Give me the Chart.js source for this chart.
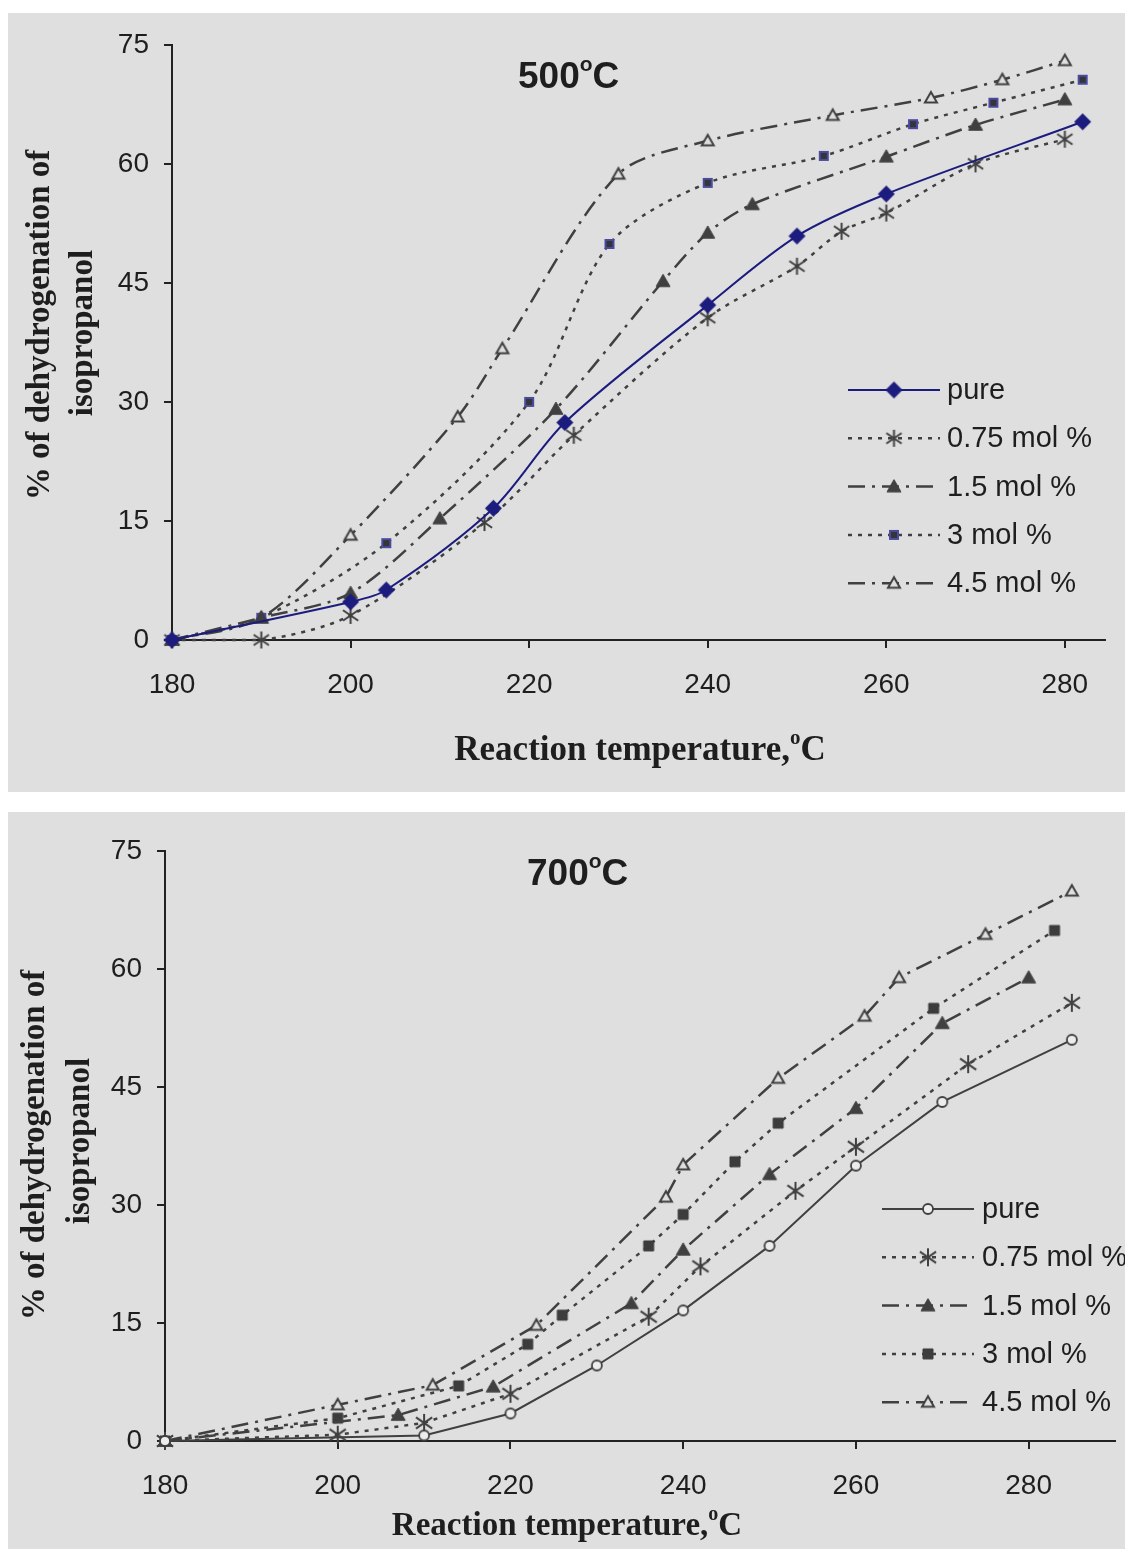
<!DOCTYPE html>
<html>
<head>
<meta charset="utf-8">
<script src="https://cdn.jsdelivr.net/npm/chart.js@4.4.1/dist/chart.umd.min.js"></script>
<style>
  body { margin: 0; background: #fff; width: 1125px; height: 1549px; position: relative; overflow: hidden; }
  .panel { position: absolute; left: 8px; width: 1117px; background: #dfdfdf; }
  #p500 { top: 13px; height: 779px; }
  #p700 { top: 812px; height: 737px; }
  canvas { display: block; }
</style>
</head>
<body>
<div class="panel" id="p500"><canvas id="c500" width="1117" height="779"></canvas></div>
<div class="panel" id="p700"><canvas id="c700" width="1117" height="737"></canvas></div>
<script>
// calcined at 500 C
const t500Pure = [180, 200, 204, 216, 224, 240, 250, 260, 282];
const v500Pure = [0, 4.8, 6.3, 16.6, 27.4, 42.2, 50.9, 56.2, 65.3];
const t500M075 = [180, 190, 200, 215, 225, 240, 250, 255, 260, 270, 280];
const v500M075 = [0, 0, 3.1, 14.8, 25.8, 40.6, 47.1, 51.5, 53.8, 60.0, 63.1];
const t500M15 = [180, 190, 200, 210, 223, 235, 240, 245, 260, 270, 280];
const v500M15 = [0, 2.8, 5.9, 15.3, 29.1, 45.2, 51.3, 54.9, 60.9, 64.9, 68.1];
const t500M3 = [180, 190, 204, 220, 229, 240, 253, 263, 272, 282];
const v500M3 = [0, 2.8, 12.2, 30.0, 49.9, 57.6, 61.0, 65.0, 67.7, 70.6];
const t500M45 = [180, 190, 200, 212, 217, 230, 240, 254, 265, 273, 280];
const v500M45 = [0, 2.8, 13.2, 28.1, 36.7, 58.7, 62.9, 66.1, 68.3, 70.6, 73.0];

// calcined at 700 C
const t700Pure = [180, 210, 220, 230, 240, 250, 260, 270, 285];
const v700Pure = [0, 0.7, 3.5, 9.6, 16.6, 24.8, 35.0, 43.1, 51.0];
const t700M075 = [180, 200, 210, 220, 236, 242, 253, 260, 273, 285];
const v700M075 = [0, 0.8, 2.3, 6.0, 15.8, 22.2, 31.8, 37.4, 47.9, 55.7];
const t700M15 = [180, 207, 218, 234, 240, 250, 260, 270, 280];
const v700M15 = [0, 3.3, 6.9, 17.5, 24.3, 33.9, 42.3, 53.1, 58.9];
const t700M3 = [180, 200, 214, 222, 226, 236, 240, 246, 251, 269, 283];
const v700M3 = [0, 2.9, 7.0, 12.3, 16.0, 24.8, 28.8, 35.5, 40.4, 55.0, 64.9];
const t700M45 = [180, 200, 211, 223, 238, 240, 251, 261, 265, 275, 285];
const v700M45 = [0, 4.6, 7.1, 14.7, 31.0, 35.1, 46.1, 54.0, 58.9, 64.4, 69.9];

const seriesLabels = ['pure', '0.75 mol %', '1.5 mol %', '3 mol %', '4.5 mol %'];
const yTicks = [0, 15, 30, 45, 60, 75];
const xTicks = [180, 200, 220, 240, 260, 280];

const BG = '#dfdfdf';
const GRAY = '#404040';
const NAVY = '#1c1c7e';
const INK = '#1e1e1e';
const SANS = "'Liberation Sans', Arial, sans-serif";
const SERIF = "'Liberation Serif', 'Times New Roman', serif";

// small offscreen canvases used as point styles (and reused by the legend)
function marker(kind, size, fill, stroke, lw) {
  const pad = 3;
  const c = document.createElement('canvas');
  c.width = c.height = size + pad * 2;
  const g = c.getContext('2d');
  const m = c.width / 2, h = size / 2;
  g.lineWidth = lw;
  g.fillStyle = fill;
  g.strokeStyle = stroke;
  g.lineJoin = 'miter';
  g.beginPath();
  if (kind === 'diamond') {
    g.moveTo(m, m - h); g.lineTo(m + h, m); g.lineTo(m, m + h); g.lineTo(m - h, m); g.closePath();
    g.fill();
  } else if (kind === 'triangle') {
    g.moveTo(m, m - h); g.lineTo(m + h, m + h * 0.75); g.lineTo(m - h, m + h * 0.75); g.closePath();
    g.fill(); g.stroke();
  } else if (kind === 'square') {
    g.rect(m - h, m - h, size, size);
    g.fill(); g.stroke();
  } else if (kind === 'circle') {
    g.arc(m, m, h, 0, Math.PI * 2);
    g.fill(); g.stroke();
  } else if (kind === 'asterisk') {
    const dx = h * 0.9, dy = h * 0.62;
    g.moveTo(m, m - h); g.lineTo(m, m + h);
    g.moveTo(m - dx, m - dy); g.lineTo(m + dx, m + dy);
    g.moveTo(m + dx, m - dy); g.lineTo(m - dx, m + dy);
    g.stroke();
  }
  return c;
}

const dotted = [4, 6];
const dashDot = [17, 7, 3, 7];

function series(label, xs, ys, style) {
  return Object.assign({
    label: label,
    data: xs.map((x, i) => ({ x: x, y: ys[i] })),
    fill: false,
    clip: false,
    pointRadius: 6,
    borderWidth: 2.5,
    borderColor: GRAY,
    backgroundColor: GRAY
  }, style);
}

const ds500 = [
  series(seriesLabels[0], t500Pure, v500Pure, { borderColor: NAVY, borderWidth: 2, pointStyle: marker('diamond', 17, NAVY, NAVY, 1) }),
  series(seriesLabels[1], t500M075, v500M075, { borderDash: dotted, pointStyle: marker('asterisk', 17, GRAY, GRAY, 2) }),
  series(seriesLabels[2], t500M15, v500M15, { borderDash: dashDot, pointStyle: marker('triangle', 14, GRAY, GRAY, 1) }),
  series(seriesLabels[3], t500M3, v500M3, { borderDash: dotted, pointStyle: marker('square', 8, '#353535', '#4a4aa0', 2) }),
  series(seriesLabels[4], t500M45, v500M45, { borderDash: dashDot, pointStyle: marker('triangle', 12, BG, GRAY, 2) })
];

const ds700 = [
  series(seriesLabels[0], t700Pure, v700Pure, { borderWidth: 2, pointStyle: marker('circle', 10, '#ededed', GRAY, 1.8) }),
  series(seriesLabels[1], t700M075, v700M075, { borderDash: dotted, pointStyle: marker('asterisk', 18, GRAY, GRAY, 2) }),
  series(seriesLabels[2], t700M15, v700M15, { borderDash: dashDot, pointStyle: marker('triangle', 14, GRAY, GRAY, 1) }),
  series(seriesLabels[3], t700M3, v700M3, { borderDash: dotted, pointStyle: marker('square', 10, '#3c3c3c', '#3c3c3c', 1) }),
  series(seriesLabels[4], t700M45, v700M45, { borderDash: dashDot, pointStyle: marker('triangle', 12, BG, GRAY, 2) })
];

// text made of runs, some raised (the small "o" used as a degree sign)
function drawRuns(ctx, runs, x, y, centered) {
  let w = 0;
  runs.forEach(r => { ctx.font = r.font; w += ctx.measureText(r.text).width; });
  let cx = centered ? x - w / 2 : x;
  ctx.textAlign = 'left';
  ctx.textBaseline = 'alphabetic';
  runs.forEach(r => {
    ctx.font = r.font;
    ctx.fillText(r.text, cx, y - (r.rise || 0));
    cx += ctx.measureText(r.text).width;
  });
}

function decorations(d) {
  return {
    id: 'decorations',
    afterDraw(chart) {
      const ctx = chart.ctx;
      ctx.save();
      ctx.fillStyle = INK;

      // panel title
      drawRuns(ctx, [
        { text: d.title, font: 'bold 37px ' + SANS },
        { text: 'o', font: 'bold 21px ' + SANS, rise: 17 },
        { text: 'C', font: 'bold 37px ' + SANS }
      ], d.titleX, d.titleY, false);

      // x axis title
      drawRuns(ctx, [
        { text: 'Reaction temperature,', font: 'bold ' + d.xFont + 'px ' + SERIF },
        { text: 'o', font: 'bold ' + Math.round(d.xFont * 0.6) + 'px ' + SERIF, rise: d.xFont * 0.45 },
        { text: 'C', font: 'bold ' + d.xFont + 'px ' + SERIF }
      ], d.xTitleX, d.xTitleY, true);

      // y axis title, two rotated lines
      ctx.font = 'bold 33px ' + SERIF;
      ctx.textAlign = 'center';
      ctx.textBaseline = 'middle';
      [['% of dehydrogenation of', d.y1X, d.y1Y], ['isopropanol', d.y2X, d.y2Y]].forEach(([t, x, y]) => {
        ctx.save();
        ctx.translate(x, y);
        ctx.rotate(-Math.PI / 2);
        ctx.fillText(t, 0, 0);
        ctx.restore();
      });

      // legend
      chart.data.datasets.forEach((ds, i) => {
        const y = d.legY + i * d.legStep;
        ctx.save();
        ctx.strokeStyle = ds.borderColor;
        ctx.lineWidth = ds.borderWidth;
        ctx.setLineDash(ds.borderDash || []);
        ctx.beginPath();
        ctx.moveTo(d.legX1, y);
        ctx.lineTo(d.legX2, y);
        ctx.stroke();
        ctx.restore();
        const img = ds.pointStyle;
        ctx.drawImage(img, (d.legX1 + d.legX2) / 2 - img.width / 2, y - img.height / 2);
        ctx.font = '29px ' + SANS;
        ctx.fillStyle = INK;
        ctx.textAlign = 'left';
        ctx.textBaseline = 'middle';
        ctx.fillText(ds.label, d.legTextX, y + 1);
      });
      ctx.restore();
    }
  };
}

function axisOptions(min, max, step, ticks, boxSize, isX) {
  return {
    type: 'linear',
    min: min,
    max: max,
    afterBuildTicks: s => { s.ticks = ticks.map(v => ({ value: v })); },
    ticks: {
      stepSize: step,
      includeBounds: false,
      color: INK,
      font: { family: SANS, size: 28 },
      padding: isX ? 20 : 15,
      maxRotation: 0,
      autoSkip: false
    },
    grid: { display: true, drawOnChartArea: false, drawTicks: true, tickLength: 8, color: '#222', lineWidth: 2 },
    border: { display: true, color: '#222', width: 2 },
    afterFit: s => { if (isX) s.height = boxSize; else s.width = boxSize; }
  };
}

function makeChart(id, datasets, xMax, layout, deco) {
  return new Chart(document.getElementById(id), {
    type: 'line',
    data: { datasets: datasets },
    options: {
      responsive: false,
      animation: false,
      events: [],
      elements: { line: { tension: layout.tension } },
      layout: { padding: { top: layout.top, right: layout.right, left: 0, bottom: 0 } },
      plugins: { legend: { display: false }, tooltip: { enabled: false } },
      scales: {
        x: axisOptions(180, xMax, 20, xTicks, layout.xBox, true),
        y: axisOptions(0, 75, 15, yTicks, layout.yBox, false)
      }
    },
    plugins: [decorations(deco)]
  });
}

makeChart('c500', ds500, 284.5,
  { top: 30, right: 20, xBox: 152, yBox: 164, tension: 0.3 },
  {
    title: '500', titleX: 510, titleY: 75,
    xFont: 35, xTitleX: 632, xTitleY: 747,
    y1X: 32, y1Y: 312, y2X: 75, y2Y: 320,
    legX1: 840, legX2: 932, legTextX: 939, legY: 377, legStep: 48.3
  });

makeChart('c700', ds700, 290,
  { top: 39, right: 10, xBox: 108, yBox: 157, tension: 0 },
  {
    title: '700', titleX: 519, titleY: 73,
    xFont: 33, xTitleX: 559, xTitleY: 723,
    y1X: 27, y1Y: 333, y2X: 72, y2Y: 329,
    legX1: 874, legX2: 966, legTextX: 974, legY: 397, legStep: 48.3
  });
</script>
</body>
</html>
